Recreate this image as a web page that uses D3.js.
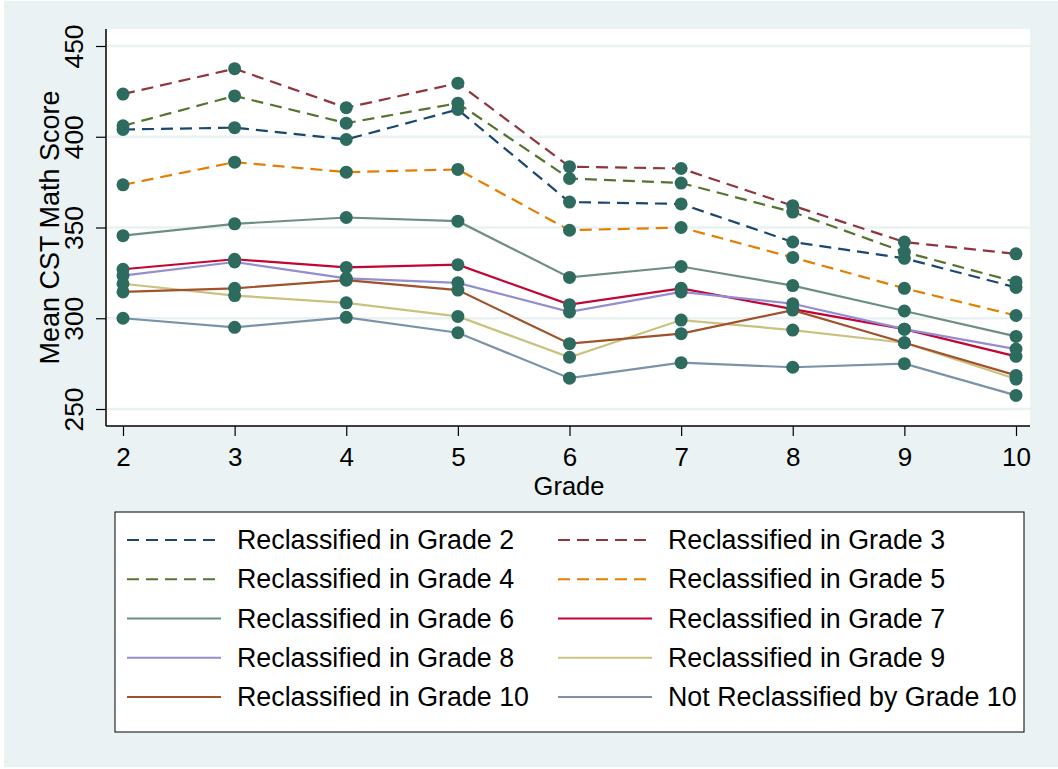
<!DOCTYPE html>
<html>
<head>
<meta charset="utf-8">
<script src="https://cdn.jsdelivr.net/npm/d3@7"></script>
<style>
  body { margin: 0; background: #fff; }
  text { font-family: "Liberation Sans", Arial, sans-serif; fill: #000; }
</style>
</head>
<body>
<div id="chart"></div>
<script>
  // Grades on the x axis
  const grades = [2, 3, 4, 5, 6, 7, 8, 9, 10];
  const yTicks = [250, 300, 350, 400, 450];

  // Mean CST math score per group, grades 2..10
  const reclassG2  = [404, 405, 398.5, 415, 364, 363, 342, 333, 317];
  const reclassG3  = [423.5, 437.5, 416, 429.5, 383.5, 382.5, 362, 342, 335.5];
  const reclassG4  = [406, 422.5, 407.5, 418.5, 377, 374.5, 358.5, 336.5, 320];
  const reclassG5  = [373.5, 386, 380.5, 382, 348.5, 350, 333.5, 316.5, 301.5];
  const reclassG6  = [345.5, 352, 355.5, 353.5, 322.5, 328.5, 318, 304, 290];
  const reclassG7  = [327, 332.5, 328, 329.5, 307.5, 316.5, 305, 294, 279];
  const reclassG8  = [323.5, 331, 322, 319.5, 303.5, 314.5, 308, 294, 283];
  const reclassG9  = [319, 312.5, 308.5, 301, 278.5, 299, 293.5, 286.5, 266.5];
  const reclassG10 = [314.5, 316.5, 321, 315.5, 286, 291.5, 304.5, 286.5, 268.5];
  const notReclass = [300, 295, 300.5, 292, 267, 275.5, 273, 275, 257.5];

  const seriesNames = [
    "Reclassified in Grade 2", "Reclassified in Grade 3",
    "Reclassified in Grade 4", "Reclassified in Grade 5",
    "Reclassified in Grade 6", "Reclassified in Grade 7",
    "Reclassified in Grade 8", "Reclassified in Grade 9",
    "Reclassified in Grade 10", "Not Reclassified by Grade 10"
  ];
  const seriesValues = [reclassG2, reclassG3, reclassG4, reclassG5, reclassG6,
                        reclassG7, reclassG8, reclassG9, reclassG10, notReclass];

  // stata s2color-ish palette
  const colors = ["#1a476f", "#90353b", "#55752f", "#e37e00", "#6e8e84",
                  "#c10534", "#938dd2", "#cac27e", "#a0522d", "#7b92a8"];
  const dashed = [true, true, true, true, false, false, false, false, false, false];
  const markerColor = "#2e6b5f";

  const width = 1058, height = 769;
  const plot = { left: 106, right: 1030, top: 29, bottom: 426 };

  const svg = d3.select("#chart").append("svg")
    .attr("width", width)
    .attr("height", height);

  // graph region + plot region
  svg.append("rect")
    .attr("x", 4).attr("y", 1)
    .attr("width", width - 4).attr("height", height - 3)
    .attr("fill", "#eaf2f3");

  svg.append("rect")
    .attr("x", plot.left).attr("y", plot.top)
    .attr("width", plot.right - plot.left).attr("height", plot.bottom - plot.top)
    .attr("fill", "#fff");

  const x = d3.scaleLinear().domain([2, 10]).range([123, 1016]);
  const y = d3.scaleLinear().domain([250, 450]).range([409, 46]);

  // gridlines
  svg.append("g")
    .selectAll("line")
    .data(yTicks)
    .enter()
    .append("line")
    .attr("x1", plot.left).attr("x2", plot.right)
    .attr("y1", d => y(d)).attr("y2", d => y(d))
    .attr("stroke", "#eaf2f3")
    .attr("stroke-width", 2.5);

  // y axis
  const yAxis = svg.append("g")
    .attr("transform", `translate(${plot.left},0)`)
    .call(d3.axisLeft(y).tickValues(yTicks).tickSize(10).tickPadding(0).tickFormat(d3.format("d")));
  yAxis.select(".domain").attr("d", `M0,${plot.top}V${plot.bottom}`).attr("stroke", "#000").attr("stroke-width", 1.5);
  yAxis.selectAll(".tick line").attr("stroke", "#000").attr("stroke-width", 1.2);
  yAxis.selectAll(".tick text")
    .attr("x", null).attr("dy", null)
    .attr("transform", "translate(-23,0) rotate(-90)")
    .attr("text-anchor", "middle")
    .style("font-size", "26.5px")
    .style("font-family", "'Liberation Sans', Arial, sans-serif");

  // x axis
  const xAxis = svg.append("g")
    .attr("transform", `translate(0,${plot.bottom})`)
    .call(d3.axisBottom(x).tickValues(grades).tickSize(10).tickPadding(0));
  xAxis.select(".domain").attr("d", `M${plot.left},0H${plot.right}`).attr("stroke", "#000").attr("stroke-width", 1.5);
  xAxis.selectAll(".tick line").attr("stroke", "#000").attr("stroke-width", 1.2);
  xAxis.selectAll(".tick text")
    .attr("y", 40).attr("dy", null)
    .style("font-size", "26px")
    .style("font-family", "'Liberation Sans', Arial, sans-serif");

  // axis titles
  svg.append("text")
    .attr("x", (plot.left + plot.right) / 2 + 1)
    .attr("y", 495)
    .attr("text-anchor", "middle")
    .style("font-size", "25.5px")
    .text("Grade");

  svg.append("text")
    .attr("transform", `translate(59,${(plot.top + plot.bottom) / 2}) rotate(-90)`)
    .attr("text-anchor", "middle")
    .style("font-size", "27px")
    .text("Mean CST Math Score");

  // series
  const line = d3.line()
    .x((d, i) => x(grades[i]))
    .y(d => y(d));

  seriesValues.forEach((vals, k) => {
    const g = svg.append("g");
    g.append("path")
      .attr("d", line(vals))
      .attr("fill", "none")
      .attr("stroke", colors[k])
      .attr("stroke-width", 2.2)
      .attr("stroke-dasharray", dashed[k] ? "12,7" : null);
    g.selectAll("circle")
      .data(vals)
      .enter()
      .append("circle")
      .attr("cx", (d, i) => x(grades[i]))
      .attr("cy", d => y(d))
      .attr("r", 6.5)
      .attr("fill", markerColor);
  });

  // legend
  const legend = svg.append("g");
  legend.append("rect")
    .attr("x", 115).attr("y", 512)
    .attr("width", 909).attr("height", 220)
    .attr("fill", "#fff")
    .attr("stroke", "#000")
    .attr("stroke-width", 1);

  const colX = [127, 558];
  const rowY = d3.scaleLinear().domain([0, 4]).range([540, 697]);

  seriesNames.forEach((name, k) => {
    const cx = colX[k % 2];
    const cy = rowY(Math.floor(k / 2));
    legend.append("line")
      .attr("x1", cx).attr("x2", cx + 94)
      .attr("y1", cy).attr("y2", cy)
      .attr("stroke", colors[k])
      .attr("stroke-width", 2.2)
      .attr("stroke-dasharray", dashed[k] ? "12,7" : null);
    legend.append("text")
      .attr("x", cx + 110)
      .attr("y", cy + 9)
      .style("font-size", "26.8px")
      .text(name);
  });
</script>
</body>
</html>
